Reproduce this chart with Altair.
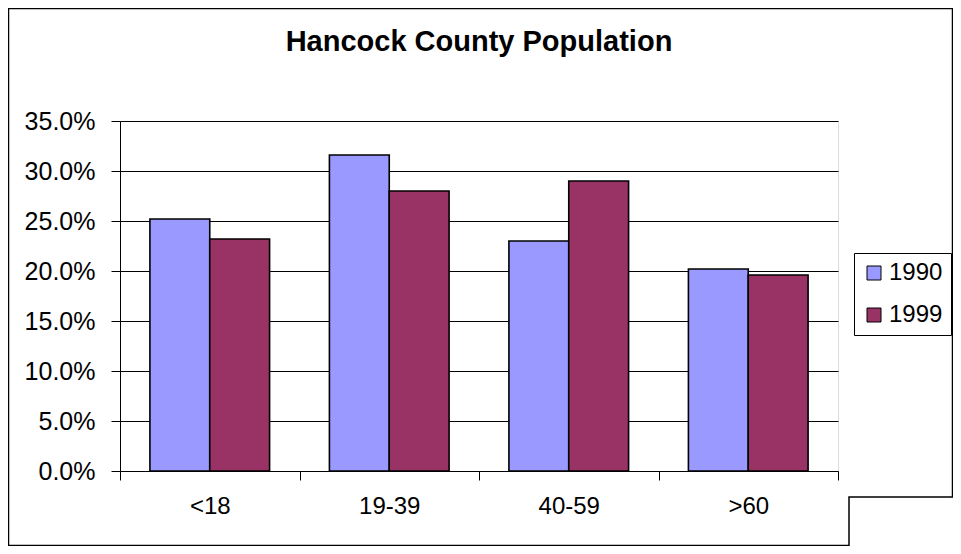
import altair as alt
import pandas as pd

categories = ["<18", "19-39", "40-59", ">60"]
years = ["1990", "1999"]
values_1990 = [0.252, 0.316, 0.230, 0.202]
values_1999 = [0.232, 0.280, 0.290, 0.196]
y_ticks = [0.0, 0.05, 0.10, 0.15, 0.20, 0.25, 0.30, 0.35]
colors = ["#9999FF", "#993366"]

rows = []
for c, v in zip(categories, values_1990):
    rows.append({"age": c, "year": "1990", "share": v})
for c, v in zip(categories, values_1999):
    rows.append({"age": c, "year": "1999", "share": v})
df = pd.DataFrame(rows)

FONT = "Liberation Sans"

bars = alt.Chart(df).mark_bar(stroke="black", strokeWidth=1.6).encode(
    x=alt.X("age:N", sort=categories, title=None,
            scale=alt.Scale(paddingInner=0, paddingOuter=0),
            axis=alt.Axis(labelAngle=0, tickBand="extent", tickSize=9, tickColor="black",
                          domainColor="black", labelPadding=14, labelFontSize=24,
                          labelColor="black", grid=False, labelFont=FONT)),
    xOffset=alt.XOffset("year:N", sort=years,
                        scale=alt.Scale(paddingOuter=0.5, paddingInner=0)),
    y=alt.Y("share:Q", title=None,
            scale=alt.Scale(domain=[0, 0.35], nice=False, zero=True),
            axis=alt.Axis(values=y_ticks, format=".1%", tickSize=9, tickColor="black",
                          domainColor="black", gridColor="black", gridOpacity=1,
                          gridWidth=1, labelPadding=16, labelFontSize=25,
                          labelColor="black", labelFont=FONT)),
    color=alt.Color("year:N", sort=years,
                    scale=alt.Scale(domain=years, range=colors),
                    legend=alt.Legend(title=None, orient="none", legendX=734, legendY=132,
                                      symbolType="square", symbolSize=196,
                                      symbolStrokeColor="black", symbolStrokeWidth=1,
                                      labelFontSize=24, labelFont=FONT, labelColor="black",
                                      strokeColor="black", padding=8, rowPadding=18,
                                      labelOffset=3, labelLimit=60)),
)

frame_df = pd.DataFrame({"k": [0]})
outer = alt.Chart(frame_df).mark_rect(fill="transparent", stroke="black", strokeWidth=1.5).encode(
    x=alt.value(-111.5), x2=alt.value(832.5), y=alt.value(-112.5), y2=alt.value(424.5)
)
corner = alt.Chart(frame_df).mark_rect(fill="white", stroke="black", strokeWidth=1.5).encode(
    x=alt.value(729), x2=alt.value(860), y=alt.value(376), y2=alt.value(460)
)

chart = alt.layer(outer, bars, corner).properties(
    width=718, height=350,
    title=alt.TitleParams("Hancock County Population", fontSize=29, font=FONT,
                          fontWeight="bold", color="black", anchor="middle",
                          frame="group", offset=-49),
    padding={"left": 112, "top": 113, "right": 115, "bottom": 75},
    autosize=alt.AutoSizeParams(type="none"),
).configure_view(strokeWidth=0, stroke="transparent").configure(background="white")

chart.save("out.html", embed_options={"renderer": "svg", "actions": False})
